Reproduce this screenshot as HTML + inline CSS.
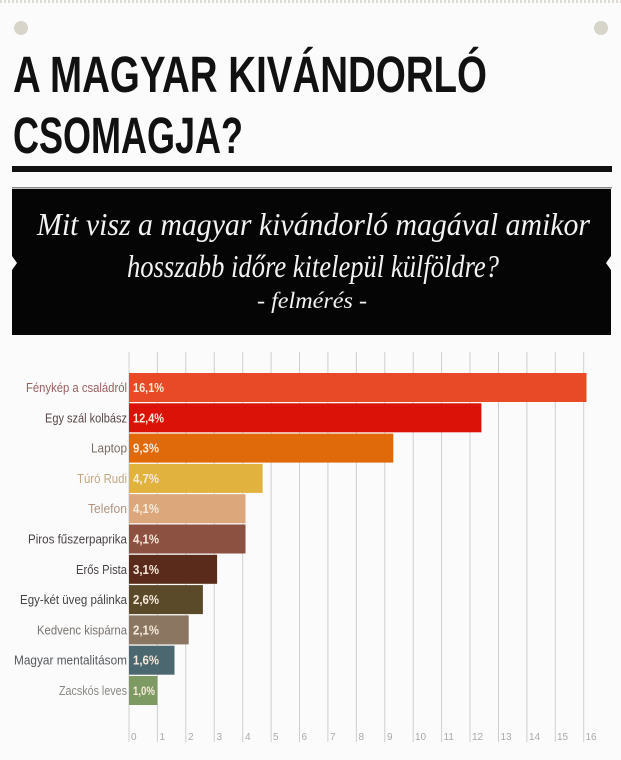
<!DOCTYPE html>
<html>
<head>
<meta charset="utf-8">
<style>
  html,body{margin:0;padding:0;background:#fbfbfb;}
  svg{display:block;}
</style>
</head>
<body>
<svg width="621" height="760" viewBox="0 0 621 760" xmlns="http://www.w3.org/2000/svg">
  <rect x="0" y="0" width="621" height="760" fill="#fbfbfb"/>
  <!-- top dotted border -->
  <line x1="0" y1="1.5" x2="621" y2="1.5" stroke="#dcdad2" stroke-width="3" stroke-dasharray="2 2"/>
  <!-- dots -->
  <circle cx="21" cy="28" r="7" fill="#d7d5ca"/>
  <circle cx="601" cy="28" r="7" fill="#d7d5ca"/>

  <!-- title -->
  <text x="13" y="92" font-family="Liberation Sans, sans-serif" font-weight="bold" font-size="51" fill="#111" textLength="474" lengthAdjust="spacingAndGlyphs">A MAGYAR KIVÁNDORLÓ</text>
  <text x="13" y="153" font-family="Liberation Sans, sans-serif" font-weight="bold" font-size="51" fill="#111" textLength="230" lengthAdjust="spacingAndGlyphs">CSOMAGJA?</text>

  <rect x="12" y="166" width="600" height="6" fill="#111"/>
  <rect x="12" y="187" width="600" height="1.5" fill="#888"/>

  <!-- black box -->
  <rect x="12" y="189" width="599" height="146" fill="#050505"/>
  <polygon points="12,256 17,263 12,270" fill="#fbfbfb"/>
  <polygon points="611,256 606,263 611,270" fill="#fbfbfb"/>
  <text x="37" y="235" font-family="Liberation Serif, serif" font-style="italic" font-size="32" fill="#f2f2f2" textLength="553" lengthAdjust="spacingAndGlyphs">Mit visz a magyar kivándorló magával amikor</text>
  <text x="127" y="277" font-family="Liberation Serif, serif" font-style="italic" font-size="32" fill="#f2f2f2" textLength="372" lengthAdjust="spacingAndGlyphs">hosszabb időre kitelepül külföldre?</text>
  <text x="257" y="308" font-family="Liberation Serif, serif" font-style="italic" font-size="23" fill="#f2f2f2" textLength="110" lengthAdjust="spacingAndGlyphs">- felmérés -</text>

  <!-- gridlines -->
  <g stroke="#cfcfcf" stroke-width="1">
    <line x1="129" y1="352" x2="129" y2="742"/>
    <line x1="157.4" y1="352" x2="157.4" y2="742"/>
    <line x1="185.8" y1="352" x2="185.8" y2="742"/>
    <line x1="214.3" y1="352" x2="214.3" y2="742"/>
    <line x1="242.7" y1="352" x2="242.7" y2="742"/>
    <line x1="271.1" y1="352" x2="271.1" y2="742"/>
    <line x1="299.5" y1="352" x2="299.5" y2="742"/>
    <line x1="327.9" y1="352" x2="327.9" y2="742"/>
    <line x1="356.4" y1="352" x2="356.4" y2="742"/>
    <line x1="384.8" y1="352" x2="384.8" y2="742"/>
    <line x1="413.2" y1="352" x2="413.2" y2="742"/>
    <line x1="441.6" y1="352" x2="441.6" y2="742"/>
    <line x1="470" y1="352" x2="470" y2="742"/>
    <line x1="498.5" y1="352" x2="498.5" y2="742"/>
    <line x1="526.9" y1="352" x2="526.9" y2="742"/>
    <line x1="555.3" y1="352" x2="555.3" y2="742"/>
    <line x1="583.7" y1="352" x2="583.7" y2="742"/>
  </g>
  <g font-family="Liberation Sans, sans-serif" font-size="10" fill="#aaa">
    <text x="131" y="740">0</text>
    <text x="159.5" y="740">1</text>
    <text x="188" y="740">2</text>
    <text x="216.5" y="740">3</text>
    <text x="245" y="740">4</text>
    <text x="273" y="740">5</text>
    <text x="301.5" y="740">6</text>
    <text x="330" y="740">7</text>
    <text x="358.5" y="740">8</text>
    <text x="387" y="740">9</text>
    <text x="415" y="740">10</text>
    <text x="443.5" y="740">11</text>
    <text x="472" y="740">12</text>
    <text x="500.5" y="740">13</text>
    <text x="529" y="740">14</text>
    <text x="557" y="740">15</text>
    <text x="585.5" y="740">16</text>
  </g>

  <!-- bars -->
  <g>
    <rect x="129" y="373" width="457.5" height="29" fill="#e84a28"/>
    <rect x="129" y="403.3" width="352.4" height="29" fill="#da1208"/>
    <rect x="129" y="433.6" width="264.3" height="29" fill="#e06a0a"/>
    <rect x="129" y="463.9" width="133.6" height="29" fill="#e2b23e"/>
    <rect x="129" y="494.2" width="116.5" height="29" fill="#dca77a"/>
    <rect x="129" y="524.5" width="116.5" height="29" fill="#8c5140"/>
    <rect x="129" y="554.8" width="88.1" height="29" fill="#5a2b1a"/>
    <rect x="129" y="585.1" width="73.9" height="29" fill="#5b4a2a"/>
    <rect x="129" y="615.4" width="59.7" height="29" fill="#8b7662"/>
    <rect x="129" y="645.7" width="45.5" height="29" fill="#4b6870"/>
    <rect x="129" y="676" width="28.4" height="29" fill="#7c9a62"/>
  </g>

  <!-- category labels -->
  <g font-family="Liberation Sans, sans-serif" font-size="13" text-anchor="end">
    <text x="127" y="392" fill="#9a6060" textLength="101" lengthAdjust="spacingAndGlyphs">Fénykép a családról</text>
    <text x="127" y="422.3" fill="#5a4646" textLength="82" lengthAdjust="spacingAndGlyphs">Egy szál kolbász</text>
    <text x="127" y="452.6" fill="#7a6c62" textLength="36" lengthAdjust="spacingAndGlyphs">Laptop</text>
    <text x="127" y="482.9" fill="#c4a882" textLength="50" lengthAdjust="spacingAndGlyphs">Túró Rudi</text>
    <text x="127" y="513.2" fill="#b09482" textLength="39" lengthAdjust="spacingAndGlyphs">Telefon</text>
    <text x="127" y="543.5" fill="#4a4444" textLength="99" lengthAdjust="spacingAndGlyphs">Piros fűszerpaprika</text>
    <text x="127" y="573.8" fill="#4a4444" textLength="51" lengthAdjust="spacingAndGlyphs">Erős Pista</text>
    <text x="127" y="604.1" fill="#444" textLength="107" lengthAdjust="spacingAndGlyphs">Egy-két üveg pálinka</text>
    <text x="127" y="634.4" fill="#7a7470" textLength="90" lengthAdjust="spacingAndGlyphs">Kedvenc kispárna</text>
    <text x="127" y="664.7" fill="#555a5e" textLength="113" lengthAdjust="spacingAndGlyphs">Magyar mentalitásom</text>
    <text x="127" y="695" fill="#8a8a84" textLength="68" lengthAdjust="spacingAndGlyphs">Zacskós leves</text>
  </g>

  <!-- value labels -->
  <g font-family="Liberation Sans, sans-serif" font-size="13" font-weight="bold" fill="#f7eadb">
    <text x="133" y="392" textLength="31" lengthAdjust="spacingAndGlyphs">16,1%</text>
    <text x="133" y="422.3" textLength="31" lengthAdjust="spacingAndGlyphs">12,4%</text>
    <text x="133" y="452.6" textLength="26" lengthAdjust="spacingAndGlyphs">9,3%</text>
    <text x="133" y="482.9" textLength="26" lengthAdjust="spacingAndGlyphs">4,7%</text>
    <text x="133" y="513.2" textLength="26" lengthAdjust="spacingAndGlyphs">4,1%</text>
    <text x="133" y="543.5" textLength="26" lengthAdjust="spacingAndGlyphs">4,1%</text>
    <text x="133" y="573.8" textLength="26" lengthAdjust="spacingAndGlyphs">3,1%</text>
    <text x="133" y="604.1" textLength="26" lengthAdjust="spacingAndGlyphs">2,6%</text>
    <text x="133" y="634.4" textLength="26" lengthAdjust="spacingAndGlyphs">2,1%</text>
    <text x="133" y="664.7" textLength="26" lengthAdjust="spacingAndGlyphs">1,6%</text>
    <text x="133" y="695" textLength="22" lengthAdjust="spacingAndGlyphs" font-size="12">1,0%</text>
  </g>
</svg>
</body>
</html>
